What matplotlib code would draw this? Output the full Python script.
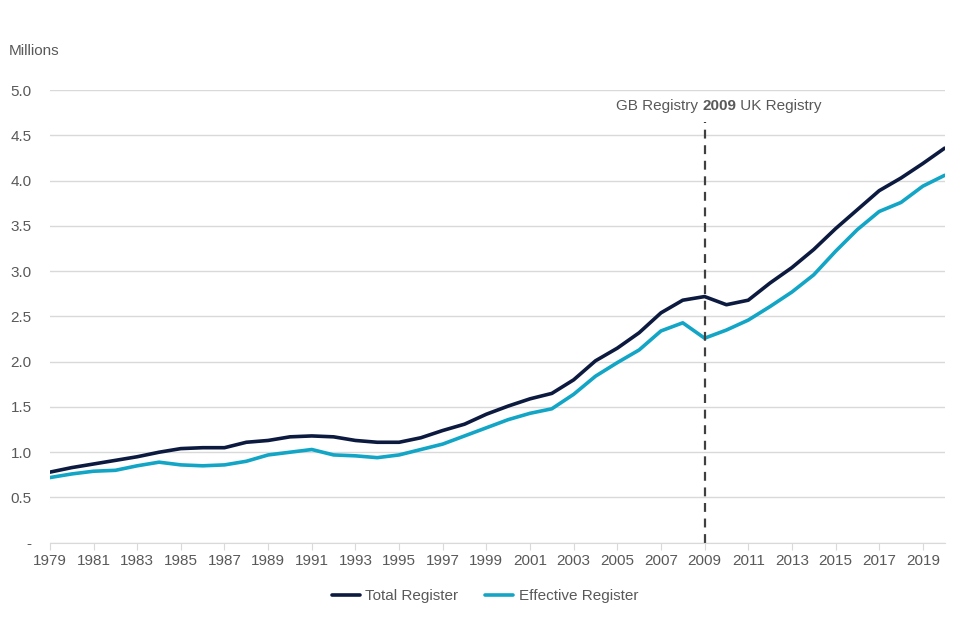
import matplotlib
matplotlib.use("Agg")
import matplotlib.pyplot as plt
from matplotlib.offsetbox import TextArea, HPacker, AnnotationBbox

plt.rcParams['font.family'] = ['Liberation Sans', 'DejaVu Sans']

years = list(range(1979, 2021))
total_register = [0.78, 0.83, 0.87, 0.91, 0.95, 1.00, 1.04, 1.05, 1.05, 1.11, 1.13, 1.17,
                  1.18, 1.17, 1.13, 1.11, 1.11, 1.16, 1.24, 1.31, 1.42, 1.51, 1.59, 1.65,
                  1.80, 2.01, 2.15, 2.32, 2.54, 2.68, 2.72, 2.63, 2.68, 2.87, 3.04, 3.24,
                  3.47, 3.68, 3.89, 4.03, 4.19, 4.36]
effective_register = [0.72, 0.76, 0.79, 0.80, 0.85, 0.89, 0.86, 0.85, 0.86, 0.90, 0.97, 1.00,
                      1.03, 0.97, 0.96, 0.94, 0.97, 1.03, 1.09, 1.18, 1.27, 1.36, 1.43, 1.48,
                      1.64, 1.84, 1.99, 2.13, 2.34, 2.43, 2.26, 2.35, 2.46, 2.61, 2.77, 2.96,
                      3.22, 3.46, 3.66, 3.76, 3.94, 4.06]
y_ticks = [0, 0.5, 1.0, 1.5, 2.0, 2.5, 3.0, 3.5, 4.0, 4.5, 5.0]
y_tick_labels = ['-', '0.5', '1.0', '1.5', '2.0', '2.5', '3.0', '3.5', '4.0', '4.5', '5.0']
x_ticks = list(range(1979, 2021, 2))
break_year = 2009

text_col = '#595959'
fig = plt.figure(figsize=(9.6, 6.4), dpi=100)
ax = fig.add_axes([0.052, 0.152, 0.932, 0.707])

ax.plot(years, total_register, color='#0c1a40', lw=2.6, label='Total Register', solid_capstyle='round')
ax.plot(years, effective_register, color='#12a5c6', lw=2.6, label='Effective Register', solid_capstyle='round')
ax.axvline(break_year, ymin=0, ymax=0.93, color='#404040', lw=1.6, ls=(0, (4, 3)))

ax.set_xlim(1979, 2020)
ax.set_ylim(0, 5.0)
ax.set_yticks(y_ticks)
ax.set_yticklabels(y_tick_labels)
ax.set_xticks(x_ticks)
ax.set_xticklabels([str(x) for x in x_ticks])
ax.grid(axis='y', color='#d9d9d9', lw=1)
ax.set_axisbelow(True)
for s in ['top', 'right', 'left']:
    ax.spines[s].set_visible(False)
ax.spines['bottom'].set_color('#d9d9d9')
ax.tick_params(axis='y', length=0, pad=13, labelsize=11, labelcolor=text_col)
ax.tick_params(axis='x', length=5, color='#d9d9d9', labelsize=11, labelcolor=text_col, pad=3)

fig.text(0.009, 0.92, 'Millions', fontsize=11, color=text_col, ha='left', va='center')

tp = dict(fontsize=11, color=text_col)
parts = [TextArea('GB Registry ', textprops=tp),
         TextArea(str(break_year), textprops=dict(tp, fontweight='bold')),
         TextArea(' UK Registry', textprops=tp)]
box = HPacker(children=parts, align='baseline', pad=0, sep=0)
ab = AnnotationBbox(box, (719 / 960, 1 - 106 / 640), xycoords='figure fraction',
                    frameon=False, box_alignment=(0.5, 0.5))
fig.add_artist(ab)

leg = fig.legend(*ax.get_legend_handles_labels(), loc='center', bbox_to_anchor=(485 / 960, 1 - 596 / 640),
                 ncol=2, frameon=False, fontsize=11, handlelength=1.85, columnspacing=1.75,
                 handletextpad=0.35, borderpad=0, borderaxespad=0)
for t in leg.get_texts():
    t.set_color(text_col)

fig.savefig('out.png', dpi=100)
